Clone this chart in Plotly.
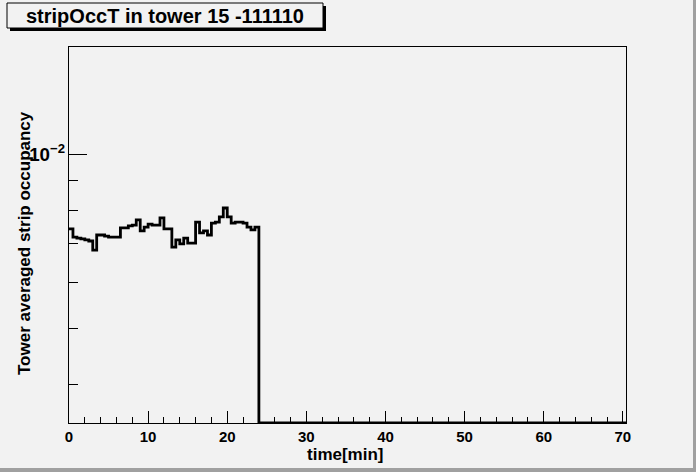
import plotly.graph_objects as go

# histogram: 0.5 min bins, only the first 48 bins are filled
bin_width = 0.5
n_bins = 141
occupancy = [
    0.00743, 0.00719, 0.00716, 0.00714, 0.00711, 0.00708, 0.00683, 0.00725,
    0.00725, 0.00722, 0.00719, 0.00719, 0.00719, 0.00746, 0.00746, 0.00752,
    0.00754, 0.00770, 0.00737, 0.00748, 0.00757, 0.00754, 0.00754, 0.00776,
    0.00743, 0.00743, 0.00691, 0.00711, 0.00700, 0.00716, 0.00702, 0.00702,
    0.00763, 0.00731, 0.00737, 0.00725, 0.00760, 0.00763, 0.00779, 0.00807,
    0.00779, 0.00760, 0.00763, 0.00763, 0.00760, 0.00748, 0.00740, 0.00748,
]
occ_all = occupancy + [0.0] * (n_bins - len(occupancy))

title_text = "stripOccT in tower 15 -111110"
x_title = "time[min]"
y_title = "Tower averaged strip occupancy"

x_range = [0, 70.4]
y_log_range = [-2.4638, -1.8155]
y_floor = 10 ** y_log_range[0]

W, H = 696, 472
L, R, T, B = 69, 70, 47, 49
bg = "#f2f2f2"


def px(x):
    return (x - L) / (W - L - R)


def py(y):
    return (H - B - y) / (H - T - B)


edges = [i * bin_width for i in range(n_bins + 1)]
yvals = [v if v > 0 else y_floor for v in occ_all]

fig = go.Figure()
fig.add_trace(go.Scatter(
    x=edges,
    y=yvals + [yvals[-1]],
    mode="lines",
    line=dict(color="black", width=2.8, shape="hv"),
    hoverinfo="skip",
    showlegend=False,
))

font = dict(family="Liberation Sans, Arial, sans-serif", color="black")

shapes = [
    # title box shadow + box
    dict(type="rect", xref="paper", yref="paper",
         x0=px(10), x1=px(326), y0=py(31), y1=py(6),
         fillcolor="black", line=dict(width=0), layer="above"),
    dict(type="rect", xref="paper", yref="paper",
         x0=px(7), x1=px(323), y0=py(28), y1=py(3),
         fillcolor=bg, line=dict(color="black", width=1), layer="above"),
    # canvas bevel (bottom / right)
    dict(type="rect", xref="paper", yref="paper",
         x0=px(0), x1=px(W), y0=py(H), y1=py(H - 4),
         fillcolor="#a0a0a0", line=dict(width=0), layer="above"),
    dict(type="rect", xref="paper", yref="paper",
         x0=px(W - 3), x1=px(W), y0=py(H), y1=py(0),
         fillcolor="#a0a0a0", line=dict(width=0), layer="above"),
]

annotations = [
    dict(text="<b>" + title_text + "</b>", xref="paper", yref="paper",
         x=px(165), y=py(16), xanchor="center", yanchor="middle",
         showarrow=False, font=dict(size=20, **font)),
    dict(text="<b>" + x_title + "</b>", xref="paper", yref="paper",
         x=px(345), y=py(454), xanchor="center", yanchor="middle",
         showarrow=False, font=dict(size=17, **font)),
    dict(text="<b>" + y_title + "</b>", xref="paper", yref="paper",
         x=px(25), y=py(243), xanchor="center", yanchor="middle",
         textangle=-90, showarrow=False, font=dict(size=17, **font)),
]

fig.update_layout(
    width=W, height=H,
    margin=dict(l=L, r=R, t=T, b=B),
    paper_bgcolor=bg, plot_bgcolor=bg,
    shapes=shapes,
    annotations=annotations,
    font=font,
    xaxis=dict(
        range=x_range, showgrid=False, zeroline=False,
        showline=True, linecolor="black", linewidth=1, mirror=True,
        tick0=0, dtick=10, ticks="inside", ticklen=12, tickcolor="black",
        minor=dict(dtick=2, tick0=0, ticks="inside", ticklen=6, tickcolor="black"),
        tickfont=dict(size=15, weight="bold", **font),
    ),
    yaxis=dict(
        type="log", range=y_log_range, showgrid=False, zeroline=False,
        showline=True, linecolor="black", linewidth=1, mirror=True,
        dtick=1, exponentformat="power",
        ticks="inside", ticklen=18, tickcolor="black",
        minor=dict(dtick="D1", ticks="inside", ticklen=9, tickcolor="black"),
        tickfont=dict(size=15, weight="bold", **font),
    ),
)

# page body margin would shift the canvas by 8 px
fig.write_html(
    "out.html",
    config={"displayModeBar": False},
    post_script="document.body.style.margin='0';document.body.style.background='%s';" % bg,
)
